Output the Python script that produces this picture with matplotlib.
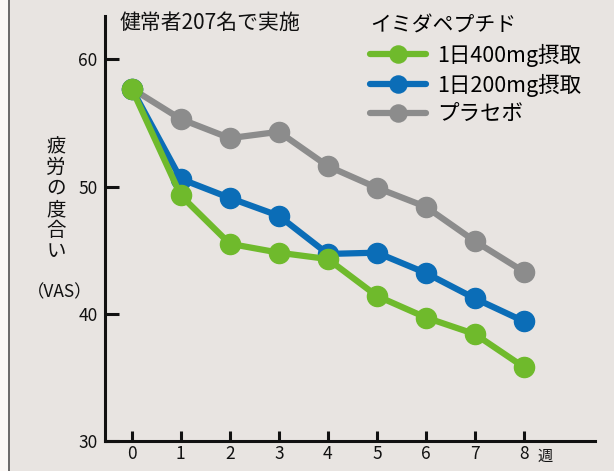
import matplotlib

matplotlib.use('Agg')

from matplotlib import pyplot as plt
from matplotlib.lines import Line2D
from matplotlib.patches import Rectangle

plt.rcParams['font.family'] = ['Noto Sans CJK JP', 'DejaVu Sans']

# 週ごとの疲労度 (VAS)
weeks = [0, 1, 2, 3, 4, 5, 6, 7, 8]
dose_400 = [57.7, 49.3, 45.5, 44.8, 44.3, 41.4, 39.7, 38.4, 35.8]
dose_200 = [57.7, 50.6, 49.1, 47.7, 44.7, 44.8, 43.2, 41.2, 39.4]
placebo = [57.7, 55.3, 53.8, 54.3, 51.6, 49.9, 48.4, 45.7, 43.3]

labels = ['1日400mg摂取', '1日200mg摂取', 'プラセボ']
colors = ['#6fba2c', '#0b6db7', '#8c8c8c']

W, H = 614, 471
bg = '#e8e4e1'

fig = plt.figure(figsize=(W / 100, H / 100), dpi=100)
fig.patch.set_facecolor(bg)

# 左端の白い余白と枠線
fig.add_artist(Rectangle((0, 0), 8 / W, 1, transform=fig.transFigure,
                         facecolor='#fbf8f6', edgecolor='none'))
fig.add_artist(Line2D([8.5 / W, 8.5 / W], [0, 1], transform=fig.transFigure,
                      color='#555555', linewidth=1.2))

ax = fig.add_axes([104.5 / W, 1 - 441 / H, (595 - 104.5) / W, (441 - 16) / H])
ax.set_facecolor(bg)

# プラセボを奥に、400mgを手前に描く
series = [(placebo, 2), (dose_200, 1), (dose_400, 0)]
handles = {}
for values, i in series:
    line, = ax.plot(weeks, values, color=colors[i], linewidth=4.5,
                    marker='o', markersize=14.5, label=labels[i],
                    solid_capstyle='round', zorder=3 + (2 - i))
    handles[i] = line

ax.set_xlim(-0.555, 9.448)
ax.set_ylim(30, 63.4)
ax.set_xticks(weeks)
ax.set_yticks([30, 40, 50, 60])

for side in ['top', 'right']:
    ax.spines[side].set_visible(False)
for side in ['left', 'bottom']:
    ax.spines[side].set_linewidth(2.2)
    ax.spines[side].set_color('#111111')

ax.tick_params(axis='y', direction='in', length=10, width=2.2, pad=5,
               labelsize=12.5, colors='#111111')
ax.tick_params(axis='x', direction='in', length=7, width=2.2, pad=3,
               labelsize=12.5, colors='#111111')

leg = ax.legend([handles[0], handles[1], handles[2]], labels,
                title='イミダペプチド', loc='upper left',
                bbox_to_anchor=(355 / W, 1.0), bbox_transform=fig.transFigure,
                frameon=False, fontsize=15.5, title_fontsize=15,
                handlelength=2.6, handletextpad=0.5, labelspacing=0.32,
                markerscale=0.85, borderpad=0.2)
leg._legend_box.align = 'left'

fig.text(120 / W, 1 - 23 / H, '健常者207名で実施', fontsize=15,
         ha='left', va='center', color='#111111')

fig.text(56 / W, 1 - 199 / H, '\n'.join('疲労の度合い'), fontsize=14,
         ha='center', va='center', linespacing=1.0, color='#111111')
fig.text(60 / W, 1 - 292 / H, '（VAS）', fontsize=12.5,
         ha='center', va='center', color='#111111')
fig.text(545 / W, 1 - 456 / H, '週', fontsize=11,
         ha='center', va='center', color='#111111')

plt.savefig('out.png', dpi=100, facecolor=fig.get_facecolor())
plt.close()
